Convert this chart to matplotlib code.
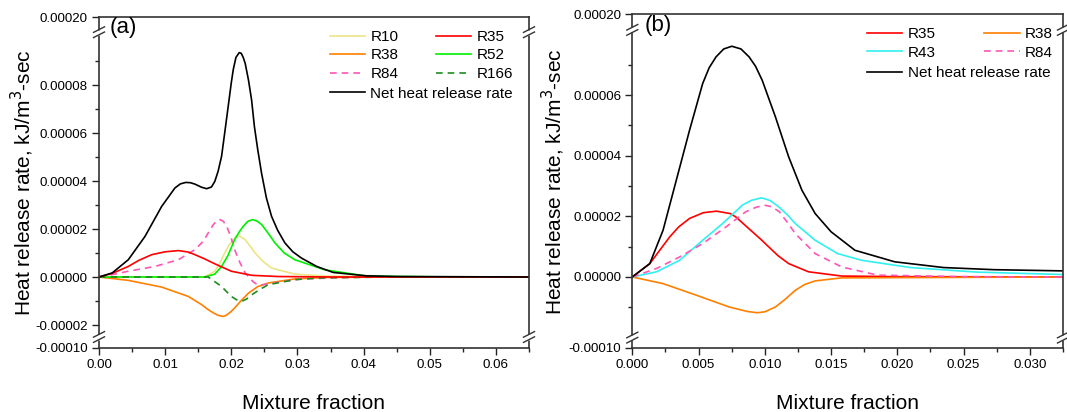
import numpy as np
import matplotlib
matplotlib.use("Agg")
import matplotlib.pyplot as plt
from matplotlib.ticker import FixedLocator, FormatStrFormatter, MultipleLocator

plt.rcParams['font.family'] = ['Liberation Sans', 'DejaVu Sans']
plt.rcParams['axes.unicode_minus'] = False

# ---------------- Panel (a) data ----------------
a_net_x = [0, 0.002, 0.00443, 0.00695, 0.00947, 0.01148, 0.0123, 0.0131, 0.0138, 0.0145, 0.0155, 0.01627,
           0.0170, 0.0175, 0.0180, 0.01853, 0.0190, 0.01953, 0.0200, 0.0203, 0.0207, 0.0212, 0.0215,
           0.0218, 0.0221, 0.0226, 0.02306, 0.0235, 0.0240, 0.02457, 0.0253, 0.02608, 0.0270, 0.0281,
           0.0293, 0.0306, 0.0329, 0.0354, 0.0404, 0.045, 0.065]
a_net_y = [0, 0.0000017, 0.0000072, 0.0000169, 0.0000294, 0.0000371, 0.0000388, 0.0000394, 0.0000393,
           0.0000387, 0.0000374, 0.0000368, 0.0000375, 0.0000398, 0.0000440, 0.0000503, 0.0000600,
           0.0000711, 0.0000810, 0.0000865, 0.0000915, 0.0000935, 0.0000932, 0.0000915, 0.0000890,
           0.0000820, 0.0000739, 0.0000625, 0.0000530, 0.0000433, 0.0000330, 0.0000253, 0.0000195,
           0.0000142, 0.0000105, 0.0000079, 0.0000044, 0.0000019, 0.0000005, 0.0000002, 0]

a_r35_x = [0, 0.002, 0.00443, 0.006, 0.00796, 0.010, 0.012, 0.0135, 0.0145, 0.016, 0.0175, 0.020, 0.0231,
           0.027, 0.035, 0.065]
a_r35_y = [0, 0.0000015, 0.0000044, 0.0000069, 0.0000093, 0.0000105, 0.000011, 0.0000104, 0.0000093,
           0.0000075, 0.0000055, 0.0000024, 0.0000007, 0.0000002, 0, 0]

a_r84_x = [0, 0.002, 0.00443, 0.00846, 0.012, 0.0145, 0.0158, 0.0165, 0.0172, 0.0178, 0.0183, 0.0188,
           0.0193, 0.0199, 0.0205, 0.0213, 0.0221, 0.0233, 0.0241, 0.0271, 0.0306, 0.040, 0.065]
a_r84_y = [0, 0.000001, 0.0000024, 0.0000044, 0.0000072, 0.0000114, 0.0000150, 0.0000183, 0.0000215,
           0.0000235, 0.0000239, 0.0000232, 0.0000211, 0.0000170, 0.0000114, 0.0000060, 0.0000017,
           -0.000002, -0.0000035, -0.0000022, -0.0000008, 0, 0]

a_r38_x = [0, 0.00443, 0.00947, 0.0135, 0.0155, 0.0165, 0.0172, 0.0178, 0.0183, 0.0188, 0.0192, 0.0196,
           0.0200, 0.0205, 0.0215, 0.0226, 0.0240, 0.0256, 0.0296, 0.0341, 0.045, 0.065]
a_r38_y = [0, -0.0000014, -0.0000042, -0.0000081, -0.0000115, -0.0000136, -0.0000148, -0.0000157,
           -0.0000162, -0.0000164, -0.0000160, -0.0000152, -0.0000143, -0.0000129, -0.0000098,
           -0.0000067, -0.0000040, -0.0000025, -0.0000008, -0.0000002, 0, 0]

a_r52_x = [0, 0.016, 0.0175, 0.01853, 0.0195, 0.0205, 0.0212, 0.0218, 0.0225, 0.0232, 0.0239, 0.0246,
           0.0255, 0.0266, 0.0280, 0.0296, 0.0341, 0.0404, 0.050, 0.065]
a_r52_y = [0, 0, 0.0000012, 0.0000044, 0.000009, 0.0000155, 0.0000188, 0.0000211, 0.0000232, 0.0000239,
           0.0000233, 0.0000218, 0.0000185, 0.0000142, 0.0000100, 0.0000072, 0.000003, 0.0000004,
           0.0000001, 0]

a_r10_x = [0, 0.016, 0.0175, 0.0183, 0.019, 0.0197, 0.0203, 0.0207, 0.021, 0.0214, 0.0221, 0.0228,
           0.0236, 0.0248, 0.0261, 0.0296, 0.0341, 0.045, 0.065]
a_r10_y = [0, 0, 0.0000024, 0.000006, 0.00001, 0.0000135, 0.0000155, 0.0000168, 0.0000172, 0.0000168,
           0.0000155, 0.0000130, 0.00001, 0.0000065, 0.0000037, 0.0000012, 0.0000004, 0, 0]

a_r166_x = [0, 0.0165, 0.0185, 0.020, 0.0208, 0.0216, 0.0223, 0.0231, 0.0243, 0.0256, 0.0296, 0.0341,
            0.045, 0.065]
a_r166_y = [0, 0, -0.0000039, -0.0000081, -0.0000095, -0.0000101, -0.0000092, -0.0000074, -0.0000052,
            -0.0000032, -0.0000011, -0.0000003, 0, 0]

# ---------------- Panel (b) data ----------------
b_net_x = [0, 0.00132, 0.00232, 0.00332, 0.00432, 0.00531, 0.0058, 0.00632, 0.0069, 0.00751, 0.0082,
           0.00881, 0.0093, 0.0098, 0.0108, 0.0118, 0.0128, 0.0138, 0.015, 0.0168, 0.0198, 0.0235,
           0.0273, 0.0325]
b_net_y = [0, 0.0000044, 0.0000154, 0.0000319, 0.0000484, 0.0000638, 0.000069, 0.0000726, 0.0000752,
           0.0000761, 0.0000752, 0.0000726, 0.0000695, 0.0000649, 0.0000528, 0.0000396, 0.0000286,
           0.0000209, 0.0000149, 0.0000088, 0.000005, 0.0000031, 0.0000024, 0.000002]

b_r35_x = [0, 0.00132, 0.00282, 0.0035, 0.00432, 0.00536, 0.00636, 0.0074, 0.00781, 0.00906, 0.0097,
           0.0103, 0.011, 0.0118, 0.0133, 0.0158, 0.020, 0.0325]
b_r35_y = [0, 0.0000044, 0.0000132, 0.0000165, 0.0000193, 0.0000212, 0.0000217, 0.0000209, 0.0000198,
           0.0000149, 0.0000124, 0.0000099, 0.000007, 0.0000044, 0.0000017, 0.0000003, 0.0000001, 0]

b_r43_x = [0, 0.00183, 0.00357, 0.00531, 0.00681, 0.00831, 0.009, 0.00976, 0.0104, 0.01106, 0.0117,
           0.0123, 0.0138, 0.0155, 0.0173, 0.021, 0.026, 0.0325]
b_r43_y = [0, 0.0000017, 0.0000055, 0.0000121, 0.0000176, 0.0000237, 0.0000253, 0.0000261, 0.0000252,
           0.0000231, 0.0000205, 0.0000176, 0.0000121, 0.0000077, 0.0000055, 0.0000031, 0.0000016,
           0.0000008]

b_r84_x = [0, 0.00183, 0.00357, 0.00531, 0.00707, 0.00856, 0.0093, 0.00994, 0.0105, 0.0111, 0.0117,
           0.0123, 0.0138, 0.0158, 0.0185, 0.025, 0.0325]
b_r84_y = [0, 0.0000028, 0.0000066, 0.000011, 0.0000165, 0.0000215, 0.0000229, 0.0000237, 0.0000232,
           0.0000215, 0.000018, 0.0000143, 0.0000077, 0.0000033, 0.0000006, 0.0000001, 0]

b_r38_x = [0, 0.00232, 0.00482, 0.00731, 0.0087, 0.00943, 0.0100, 0.0108, 0.0115, 0.0123, 0.0130,
           0.0138, 0.0158, 0.0325]
b_r38_y = [0, -0.0000022, -0.000006, -0.0000099, -0.0000114, -0.0000118, -0.0000115, -0.0000099,
           -0.0000075, -0.0000044, -0.0000025, -0.0000013, -0.0000003, 0]

# ticks
a_xticks = [0.00, 0.01, 0.02, 0.03, 0.04, 0.05, 0.06]
b_xticks = [0.000, 0.005, 0.010, 0.015, 0.020, 0.025, 0.030]
a_yticks = [-0.0001, -0.00002, 0.0, 0.00002, 0.00004, 0.00006, 0.00008, 0.0002]
a_yminor = [-0.00001, 0.00001, 0.00003, 0.00005, 0.00007, 0.00009]
b_yticks = [-0.0001, 0.0, 0.00002, 0.00004, 0.00006, 0.0002]
b_yminor = [-0.00001, 0.00001, 0.00003, 0.00005, 0.00007]

C_R10 = '#ECE486'
C_R35 = '#FF0000'
C_R38 = '#FF8000'
C_R52 = '#00F000'
C_R84 = '#FF55B5'
C_R166 = '#1E8C1E'
C_R43 = '#30F0F0'
C_NET = '#000000'
DASH = (0, (4, 3))

W, H = 1067, 412
fig = plt.figure(figsize=(W / 100, H / 100), dpi=100)


def make_scale(ymin, b0, b1, ymax, tbot, t0, t1, ttop):
    vs = np.array([ymin, b0, b1, ymax], dtype=float)
    ts = np.array([tbot, t0, t1, ttop], dtype=float)

    def fwd(v):
        v = np.asarray(v, dtype=float)
        out = np.interp(v, vs, ts)
        s_lo = (ts[1] - ts[0]) / (vs[1] - vs[0])
        s_hi = (ts[3] - ts[2]) / (vs[3] - vs[2])
        out = np.where(v < ymin, ts[0] + (v - vs[0]) * s_lo, out)
        out = np.where(v > ymax, ts[3] + (v - vs[3]) * s_hi, out)
        return out

    def inv(t):
        t = np.asarray(t, dtype=float)
        out = np.interp(t, ts, vs)
        s_lo = (vs[1] - vs[0]) / (ts[1] - ts[0])
        s_hi = (vs[3] - vs[2]) / (ts[3] - ts[2])
        out = np.where(t < tbot, vs[0] + (t - ts[0]) * s_lo, out)
        out = np.where(t > ttop, vs[3] + (t - ts[3]) * s_hi, out)
        return out

    return fwd, inv


def setup_panel(rect, xlim, xticks, xfmt, xminor, yticks, yminor, brk, label, labx, fwd, inv):
    ax = fig.add_axes(rect)
    ax.set_yscale('function', functions=(fwd, inv))
    ax.set_ylim(-0.0001, 0.0002)
    ax.set_xlim(*xlim)
    ax.xaxis.set_major_locator(FixedLocator(xticks))
    ax.xaxis.set_major_formatter(FormatStrFormatter(xfmt))
    ax.xaxis.set_minor_locator(MultipleLocator(xminor))
    ax.yaxis.set_major_locator(FixedLocator(yticks))
    ax.yaxis.set_minor_locator(FixedLocator(yminor))
    ax.yaxis.set_major_formatter(FormatStrFormatter('%.5f'))
    ax.tick_params(which='both', direction='out', top=False, right=False, labelsize=9.6,
                   color='#222222', width=1.0, pad=3)
    ax.tick_params(which='major', length=5)
    ax.tick_params(which='minor', length=2.7)
    for s in ax.spines.values():
        s.set_color('#333333')
        s.set_linewidth(1.2)
    ax.set_xlabel('Mixture fraction', fontsize=15)
    ax.set_ylabel('Heat release rate, kJ/m$^3$-sec', fontsize=15)
    ax.text(labx, 0.967, label, transform=ax.transAxes, fontsize=16, ha='left', va='center')

    # break marks
    ymin, ymax = ax.get_ylim()
    tmin, tmax = fwd(ymin), fwd(ymax)
    axw_px = rect[2] * W
    axh_px = rect[3] * H
    for bv in brk:
        fy = float((fwd(bv) - tmin) / (tmax - tmin))
        g = 2.6 / axh_px
        dx = 5.5 / axw_px
        dy = 2.8 / axh_px
        for xs in (0.0, 1.0):
            ax.plot([xs, xs], [fy - g, fy + g], transform=ax.transAxes, color='white',
                    lw=2.5, clip_on=False, zorder=5, solid_capstyle='butt')
            for sgn in (-1, 1):
                yc = fy + sgn * g
                ax.plot([xs - dx, xs + dx], [yc - dy, yc + dy], transform=ax.transAxes,
                        color='#333333', lw=1.0, clip_on=False, zorder=6)
    return ax


leg_kw = dict(frameon=False, fontsize=11, handlelength=2.3, handletextpad=0.35,
              labelspacing=0.3, borderpad=0, borderaxespad=0, loc='upper left')
lw = 1.2

# ---------------- Panel (a) ----------------
ka = 48 / 0.00002
fa, ia = make_scale(-0.0001, -0.000025, 0.000102, 0.0002, -71, -0.000025 * ka, 0.000102 * ka, 260)
rect_a = [99 / W, (H - 348) / H, (529 - 99) / W, (348 - 17) / H]
axa = setup_panel(rect_a, (0, 0.065), a_xticks, '%.2f', 0.005, a_yticks, a_yminor,
                  [-0.000025, 0.000102], '(a)', 0.0256, fa, ia)
ha10, = axa.plot(a_r10_x, a_r10_y, color=C_R10, lw=lw, label='R10')
ha38, = axa.plot(a_r38_x, a_r38_y, color=C_R38, lw=lw, label='R38')
ha84, = axa.plot(a_r84_x, a_r84_y, color=C_R84, lw=lw, ls=DASH, label='R84')
ha52, = axa.plot(a_r52_x, a_r52_y, color=C_R52, lw=lw, label='R52')
ha166, = axa.plot(a_r166_x, a_r166_y, color=C_R166, lw=lw, ls=DASH, label='R166')
ha35, = axa.plot(a_r35_x, a_r35_y, color=C_R35, lw=lw, label='R35')
hanet, = axa.plot(a_net_x, a_net_y, color=C_NET, lw=lw, label='Net heat release rate')
axa.yaxis.set_label_coords(-0.146, 0.5)
axa.xaxis.set_label_coords(0.5, -0.139)

l1 = axa.legend([ha10, ha38, ha84, ha35, ha52, ha166], ['R10', 'R38', 'R84', 'R35', 'R52', 'R166'],
                ncol=2, columnspacing=2.45, bbox_to_anchor=(0.537, 0.961), **leg_kw)
axa.add_artist(l1)
axa.legend([hanet], ['Net heat release rate'], bbox_to_anchor=(0.537, 0.789), **leg_kw)

# ---------------- Panel (b) ----------------
kb = 60.6 / 0.00002
fb, ib = make_scale(-0.0001, -0.00002, 0.0000815, 0.0002, -71, -0.00002 * kb, 0.0000815 * kb, 262.3)
rect_b = [632.3 / W, (H - 348) / H, (1063 - 632.3) / W, (348 - 14.5) / H]
axb = setup_panel(rect_b, (0, 0.0325), b_xticks, '%.3f', 0.0025, b_yticks, b_yminor,
                  [-0.00002, 0.0000815], '(b)', 0.0295, fb, ib)
hb35, = axb.plot(b_r35_x, b_r35_y, color=C_R35, lw=lw, label='R35')
hb38, = axb.plot(b_r38_x, b_r38_y, color=C_R38, lw=lw, label='R38')
hb43, = axb.plot(b_r43_x, b_r43_y, color=C_R43, lw=lw, label='R43')
hb84, = axb.plot(b_r84_x, b_r84_y, color=C_R84, lw=lw, ls=DASH, label='R84')
hbnet, = axb.plot(b_net_x, b_net_y, color=C_NET, lw=lw, label='Net heat release rate')
axb.yaxis.set_label_coords(-0.151, 0.5)
axb.xaxis.set_label_coords(0.5, -0.138)
l2 = axb.legend([hb35, hb43, hb38, hb84], ['R35', 'R43', 'R38', 'R84'],
                ncol=2, columnspacing=3.2, bbox_to_anchor=(0.545, 0.962), **leg_kw)
axb.add_artist(l2)
axb.legend([hbnet], ['Net heat release rate'], bbox_to_anchor=(0.545, 0.8456), **leg_kw)

fig.savefig('out.png', dpi=100)
